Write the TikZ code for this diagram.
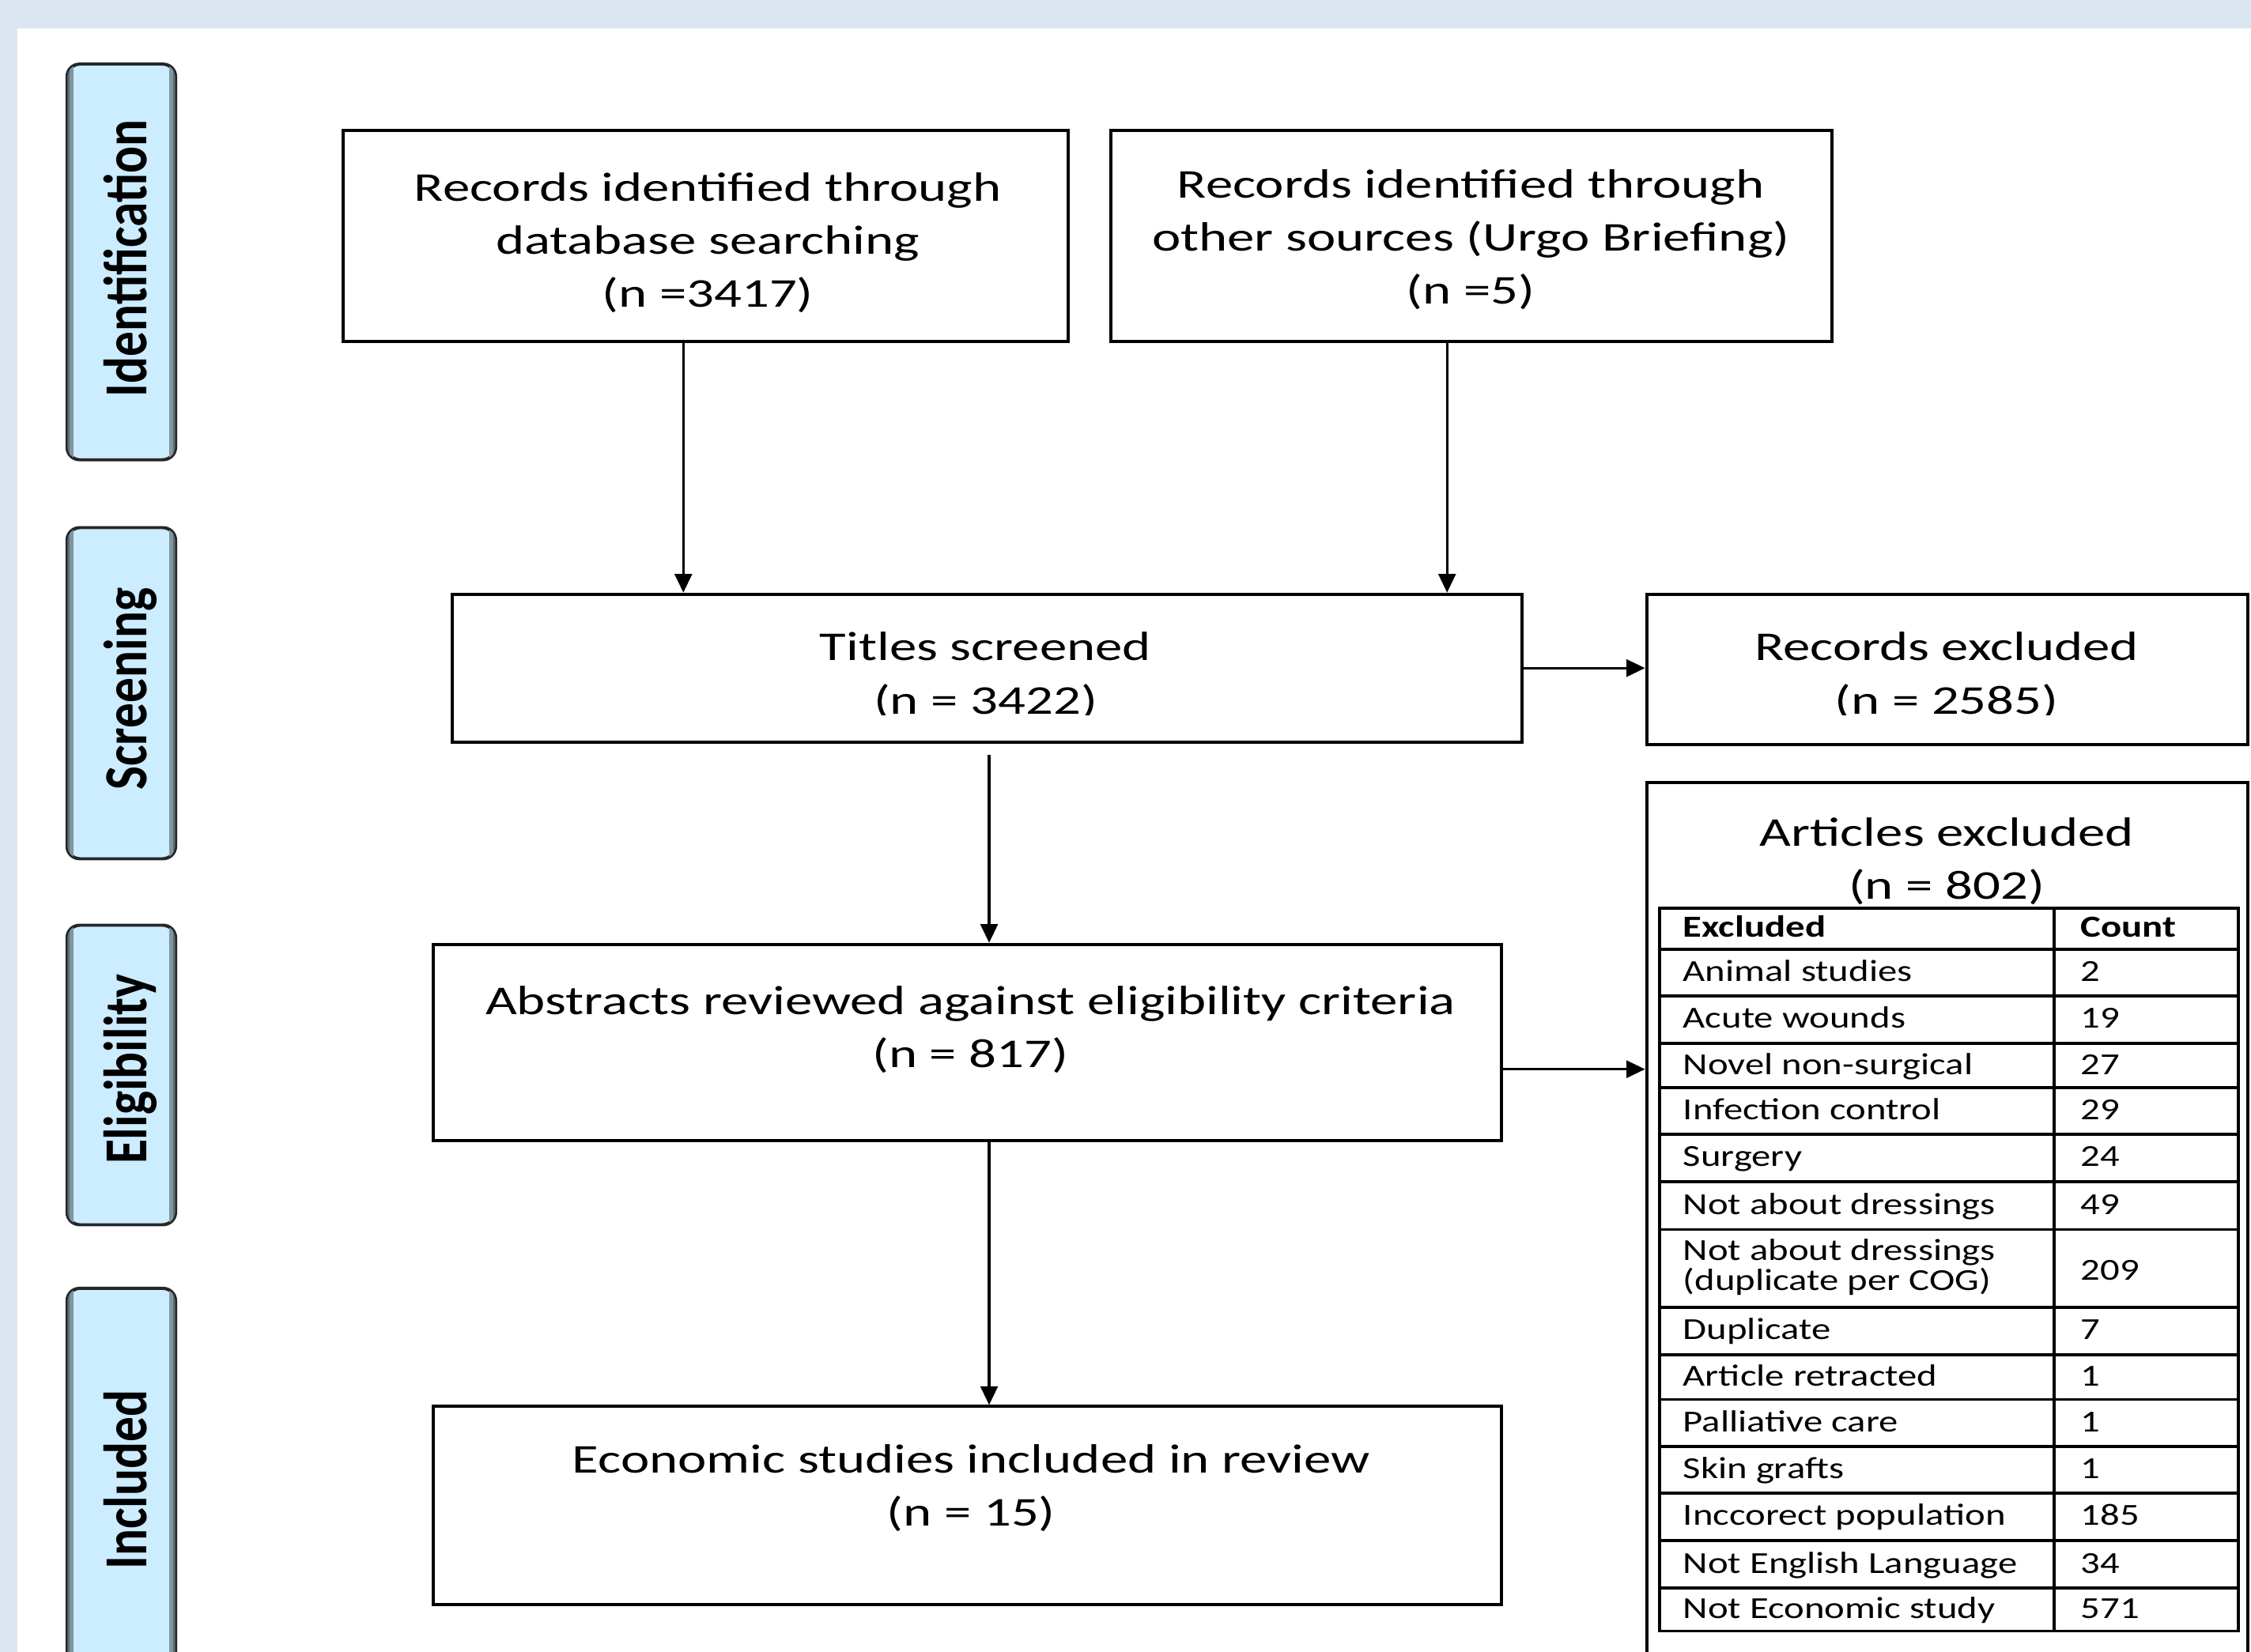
\documentclass[tikz,border=0pt]{standalone}
\usepackage{fontspec}
\usetikzlibrary{arrows.meta,calc}
\newfontfamily\boxfont[FakeStretch=1.33]{Carlito}
\newfontfamily\tabfont[FakeStretch=1.26]{Carlito}
\newfontfamily\labfont{Carlito}
\definecolor{bgblue}{HTML}{DCE6F2}
\definecolor{phasefill}{HTML}{CCECFF}
\definecolor{bandout}{HTML}{5E6A72}
\definecolor{bandin}{HTML}{8095A2}
\newcommand\tabsetup{\tabfont\fontsize{10.65pt}{10.35pt}\selectfont\lineskiplimit=-20pt\relax}
\begin{document}
\begin{tikzpicture}[x=0.5pt,y=-0.5pt,
  box/.style={draw, line width=1.1pt, inner sep=0pt},
  btxt/.style={font=\boxfont\fontsize{14.25pt}{18.5pt}\selectfont, align=center, inner sep=0pt},
  arr/.style={-{Triangle[length=6.5pt,width=6pt]}, line width=0.9pt},
  phase/.style={draw=black!85, line width=0.7pt, rounded corners=4.5pt, fill=phasefill, minimum width=37.5pt, inner sep=0pt},
  phaseline/.style={draw=black!85, line width=0.7pt, rounded corners=4.5pt},
  ptxt/.style={font=\labfont\bfseries\fontsize{21.3pt}{24pt}\selectfont, rotate=90, anchor=base, inner sep=0pt},
  tabline/.style={line width=1pt},
  ttxt/.style={font=\tabsetup, anchor=base west, inner sep=0pt, align=left},
  thead/.style={ttxt, font=\tabsetup\bfseries}
]
\useasboundingbox (0,0) rectangle (1568,1151);
\clip (0,0) rectangle (1568,1151);
% background frame
\fill[bgblue] (0,0) rectangle (1568,1151);
\fill[white] (12,20) rectangle (1568,1151);

% phase labels
\foreach \nm/\cy/\h/\ty/\txt in {idb/182.5/137.5/180/Identification, scb/483/115/480/Screening, elb/749/104/745/Eligibility, inb/1039/141/1031/Included}{
  \node[phase, minimum height=\h pt] (\nm) at (84.5,\cy) {};
  \begin{scope}
    \clip[rounded corners=4.5pt] (\nm.south west) rectangle (\nm.north east);
    \fill[bandout] (\nm.south west) rectangle ($(\nm.north west)+(2,0)$);
    \fill[bandin] ($(\nm.south west)+(2,0)$) rectangle ($(\nm.north west)+(5,0)$);
    \fill[bandin] ($(\nm.south east)+(-5,0)$) rectangle ($(\nm.north east)+(-2,0)$);
    \fill[bandout] ($(\nm.south east)+(-2,0)$) rectangle (\nm.north east);
  \end{scope}
  \draw[phaseline] (\nm.south west) rectangle (\nm.north east);
  \node[ptxt] (\nm t) at (102,\ty) {\scalebox{0.82}[1]{\txt}};
}

% boxes
\node[box, minimum width=252.5pt, minimum height=73.5pt] (db) at (491.5,164.5) {};
\node[box, minimum width=251pt, minimum height=73.5pt] (oth) at (1025,164.5) {};
\node[box, minimum width=372.5pt, minimum height=51.5pt] (tit) at (687.5,465.5) {};
\node[box, minimum width=209.5pt, minimum height=52.5pt] (rex) at (1356.5,466.5) {};
\node[box, minimum width=372pt, minimum height=68.5pt] (abs) at (674,726.5) {};
\node[box, minimum width=372pt, minimum height=69pt] (eco) at (674,1049) {};
\node[box, minimum width=209.5pt, minimum height=317.5pt] (aex) at (1356.5,862.5) {};

% box texts
\node[btxt] (dbt) at (493,169) {Records identified through\\database searching\\(n =3417)};
\node[btxt] (otht) at (1024.5,167) {Records identified through\\other sources (Urgo Briefing)\\(n =5)};
\begin{scope}
  \clip (300,380) rectangle (1568,498);
  \node[btxt] (titt) at (686.5,471) {Titles screened\\(n = 3422)};
  \node[btxt] (rext) at (1356,471) {Records excluded\\(n = 2585)};
\end{scope}
\node[btxt] (abst) at (676,717.5) {Abstracts reviewed against eligibility criteria\\(n = 817)};
\node[btxt] (ecot) at (676.5,1037) {Economic studies included in review\\(n = 15)};
\node[btxt] (aext) at (1356,600) {Articles excluded\\(n = 802)};

% connectors
\coordinate (a1) at ($(db.south)+(-15.5,0)$);
\coordinate (a2) at ($(oth.south)+(-17,0)$);
\coordinate (a4) at ($(tit.south)+(1.5,8)$);
\coordinate (a5) at ($(abs.east)+(0,18.5)$);
\coordinate (a6) at ($(abs.south)+(15,0)$);
\draw[arr] (a1) -- (a1 |- tit.north);
\draw[arr] (a2) -- (a2 |- tit.north);
\draw[arr] (tit.east) -- (tit.east -| rex.west);
\draw[arr] (a4) -- (a4 |- abs.north);
\draw[arr] (a5) -- (a5 -| aex.west);
\draw[arr] (a6) -- (a6 |- eco.north);

% table
\draw[tabline] (1156,632.8) rectangle (1559,1136.5);
\draw[tabline] (1431,632.8) -- (1431,1136.5);
\foreach \yy in {661.3,693.9,727,757.9,790.4,823.4,856.7,910.9,944,975.1,1007.8,1040.3,1073.4,1106.5}{
  \draw[tabline] (1156,\yy) -- (1559,\yy);
}
\node[thead] (h1) at (1172,653) {Excluded};
\node[thead] (h2) at (1449,653) {Count};
\foreach \i/\yy/\lab/\cnt in {1/683.6/Animal studies/2, 2/716.5/Acute wounds/19, 3/748.5/Novel non-surgical/27, 4/780.2/Infection control/29, 5/812.9/Surgery/24, 6/846/Not about dressings/49, 8/933.5/Duplicate/7, 9/965.5/Article retracted/1, 10/997.5/Palliative care/1, 11/1030/Skin grafts/1, 12/1062.9/Inccorect population/185, 13/1096/Not English Language/34, 14/1127.5/Not Economic study/571}{
  \node[ttxt] (l\i) at (1172,\yy) {\lab};
  \node[ttxt] (c\i) at (1449,\yy) {\cnt};
}
\node[ttxt] (l7) at (1172,899) {Not about dressings\\(duplicate per COG)};
\node[ttxt] (c7) at (1449,892) {209};
\end{tikzpicture}
\end{document}
